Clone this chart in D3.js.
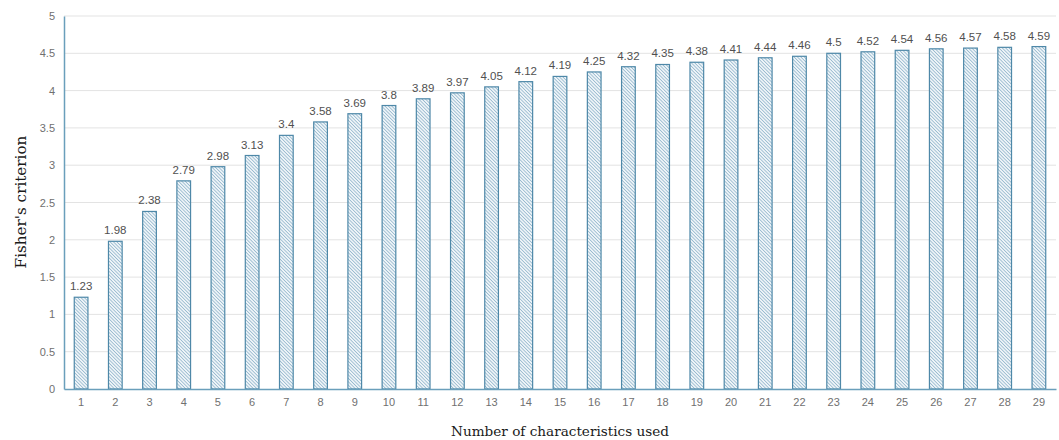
<!DOCTYPE html>
<html><head><meta charset="utf-8">
<script src="https://cdn.jsdelivr.net/npm/d3@7"></script>
<style>body{margin:0;background:#fff;}svg{display:block;}</style>
</head><body>
<svg id="c" width="1059" height="440"></svg>
<script>
const categories = ["1","2","3","4","5","6","7","8","9","10","11","12","13","14","15","16","17","18","19","20","21","22","23","24","25","26","27","28","29"];
const values = [1.23,1.98,2.38,2.79,2.98,3.13,3.4,3.58,3.69,3.8,3.89,3.97,4.05,4.12,4.19,4.25,4.32,4.35,4.38,4.41,4.44,4.46,4.5,4.52,4.54,4.56,4.57,4.58,4.59];
const yTicks = [0,0.5,1,1.5,2,2.5,3,3.5,4,4.5,5];

const svg = d3.select("#c");
const m = {l:64, r:3, t:16, b:51};
const W = 1059, H = 440;
const x = d3.scaleBand().domain(categories).range([m.l, W-m.r]).paddingInner(0.6).paddingOuter(0.3);
const y = d3.scaleLinear().domain([0,5]).range([H-m.b, m.t]);

const defs = svg.append("defs");
const pat = defs.append("pattern").attr("id","hatch").attr("patternUnits","userSpaceOnUse")
  .attr("width",2.4).attr("height",2.4).attr("patternTransform","rotate(-45)");
pat.append("rect").attr("width",2.4).attr("height",2.4).attr("fill","#eef4f8");
pat.append("line").attr("x1",0).attr("y1",0).attr("x2",0).attr("y2",2.4)
  .attr("stroke","#6f9fbb").attr("stroke-width",1.1);

// gridlines
svg.append("g").selectAll("line").data(yTicks.filter(d=>d>0)).join("line")
  .attr("x1",m.l).attr("x2",W-m.r).attr("y1",d=>y(d)).attr("y2",d=>y(d))
  .attr("stroke","#e3e3e3").attr("stroke-width",1);

// bars
svg.append("g").selectAll("rect").data(values).join("rect")
  .attr("x",(d,i)=>x(categories[i])).attr("width",x.bandwidth())
  .attr("y",d=>y(d)).attr("height",d=>y(0)-y(d))
  .attr("fill","url(#hatch)").attr("stroke","#4e88a8").attr("stroke-width",1.2);

const sans = "'Liberation Sans', Arial, sans-serif";
const serif = "'DejaVu Serif', 'Liberation Serif', serif";

// value labels
svg.append("g").selectAll("text").data(values).join("text")
  .attr("x",(d,i)=>x(categories[i])+x.bandwidth()/2).attr("y",d=>y(d)-7)
  .attr("text-anchor","middle").style("font-family",sans)
  .attr("font-size",11.5).attr("fill","#505050").text(d=>d);

// y axis
const ya = svg.append("g").attr("transform",`translate(${m.l},0)`)
  .call(d3.axisLeft(y).tickValues(yTicks).tickSize(0).tickPadding(9).tickFormat(d=>d));
ya.select(".domain").attr("stroke","#6a9fbb").attr("stroke-width",1.5);
ya.selectAll("text").style("font-family",sans).attr("font-size",11).attr("fill","#707070");

// x axis
const xa = svg.append("g").attr("transform",`translate(0,${y(0)})`)
  .call(d3.axisBottom(x).tickSize(0).tickPadding(9));
xa.select(".domain").attr("stroke","#6a9fbb").attr("stroke-width",1.5);
xa.selectAll("text").style("font-family",sans).attr("font-size",11).attr("fill","#707070");

// titles
svg.append("text").attr("x",560).attr("y",436).attr("text-anchor","middle")
  .style("font-family",serif).attr("font-size",13.6).attr("fill","#1a1a1a")
  .text("Number of characteristics used");
svg.append("text").attr("transform","translate(26,202) rotate(-90)").attr("text-anchor","middle")
  .style("font-family",serif).attr("font-size",15.2).attr("fill","#1a1a1a")
  .text("Fisher's criterion");
</script>
</body></html>
